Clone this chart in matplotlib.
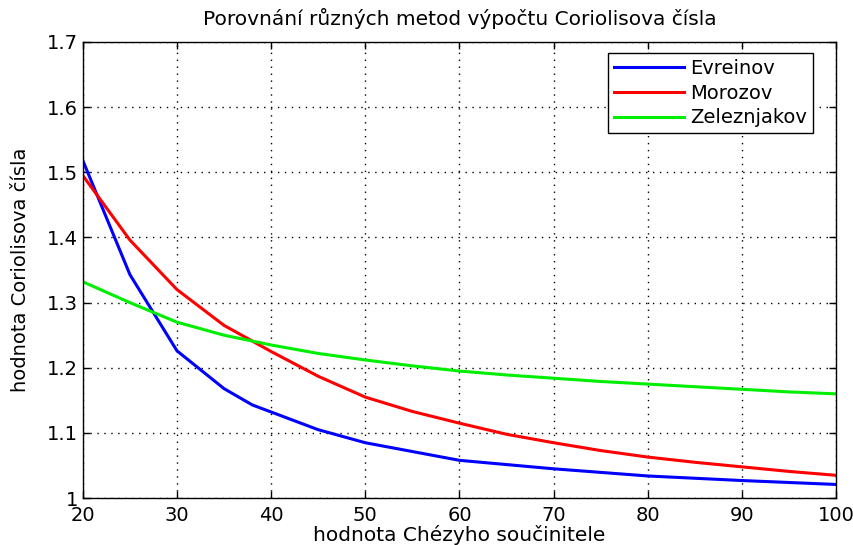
import numpy as np
import matplotlib
matplotlib.use('Agg')
import matplotlib.pyplot as plt

# Data
x_evreinov = [20, 25, 30, 35, 38, 45, 50, 60, 70, 80, 90, 100]
y_evreinov = [1.518, 1.343, 1.226, 1.168, 1.143, 1.105, 1.085, 1.058, 1.045, 1.034, 1.027, 1.021]

x_smooth = [20, 25, 30, 35, 40, 45, 50, 55, 60, 65, 70, 75, 80, 85, 90, 95, 100]
y_morozov = [1.495, 1.396, 1.320, 1.265, 1.225, 1.187, 1.155, 1.133, 1.115, 1.098,
             1.085, 1.073, 1.063, 1.055, 1.048, 1.041, 1.035]
y_zeleznjakov = [1.332, 1.300, 1.270, 1.250, 1.235, 1.222, 1.212, 1.203, 1.195, 1.189,
                 1.184, 1.179, 1.175, 1.171, 1.167, 1.163, 1.160]

x_ticks = [20, 30, 40, 50, 60, 70, 80, 90, 100]
y_ticks = [1, 1.1, 1.2, 1.3, 1.4, 1.5, 1.6, 1.7]
y_tick_labels = ['1', '1.1', '1.2', '1.3', '1.4', '1.5', '1.6', '1.7']

plt.rcParams['font.family'] = ['DejaVu Sans']

fig = plt.figure(figsize=(8.54, 5.45), dpi=100)
ax = fig.add_axes([0.097, 0.086, 0.882, 0.837])

ax.plot(x_evreinov, y_evreinov, color='#0000ff', lw=2.2, label='Evreinov')
ax.plot(x_smooth, y_morozov, color='#ff0000', lw=2.2, label='Morozov')
ax.plot(x_smooth, y_zeleznjakov, color='#00ee00', lw=2.2, label='Zeleznjakov')

ax.set_xlim(20, 100)
ax.set_ylim(1, 1.7)
ax.set_xticks(x_ticks)
ax.set_yticks(y_ticks)
ax.set_xticklabels([str(t) for t in x_ticks])
ax.set_yticklabels(y_tick_labels)
ax.tick_params(direction='in', labelsize=14, length=5, top=True, right=True, width=1)
ax.tick_params(axis='x', pad=6)
ax.grid(True, color='black', linestyle=(0, (1, 4)), linewidth=1)
for s in ax.spines.values():
    s.set_linewidth(1)

ax.set_title('Porovnání různých metod výpočtu Coriolisova čísla', fontsize=14.5, pad=12)
ax.set_xlabel('hodnota Chézyho součinitele', fontsize=14.5, labelpad=0)
ax.set_ylabel('hodnota Coriolisova čísla', fontsize=14, labelpad=12)

leg = ax.legend(loc='upper right', bbox_to_anchor=(0.9695, 0.976), borderaxespad=0,
                fontsize=14, fancybox=False, framealpha=1, edgecolor='black',
                handlelength=3.6, borderpad=0.3, labelspacing=0.3, handletextpad=0.35)
leg.get_frame().set_linewidth(1)

fig.savefig('out.png', dpi=100)
